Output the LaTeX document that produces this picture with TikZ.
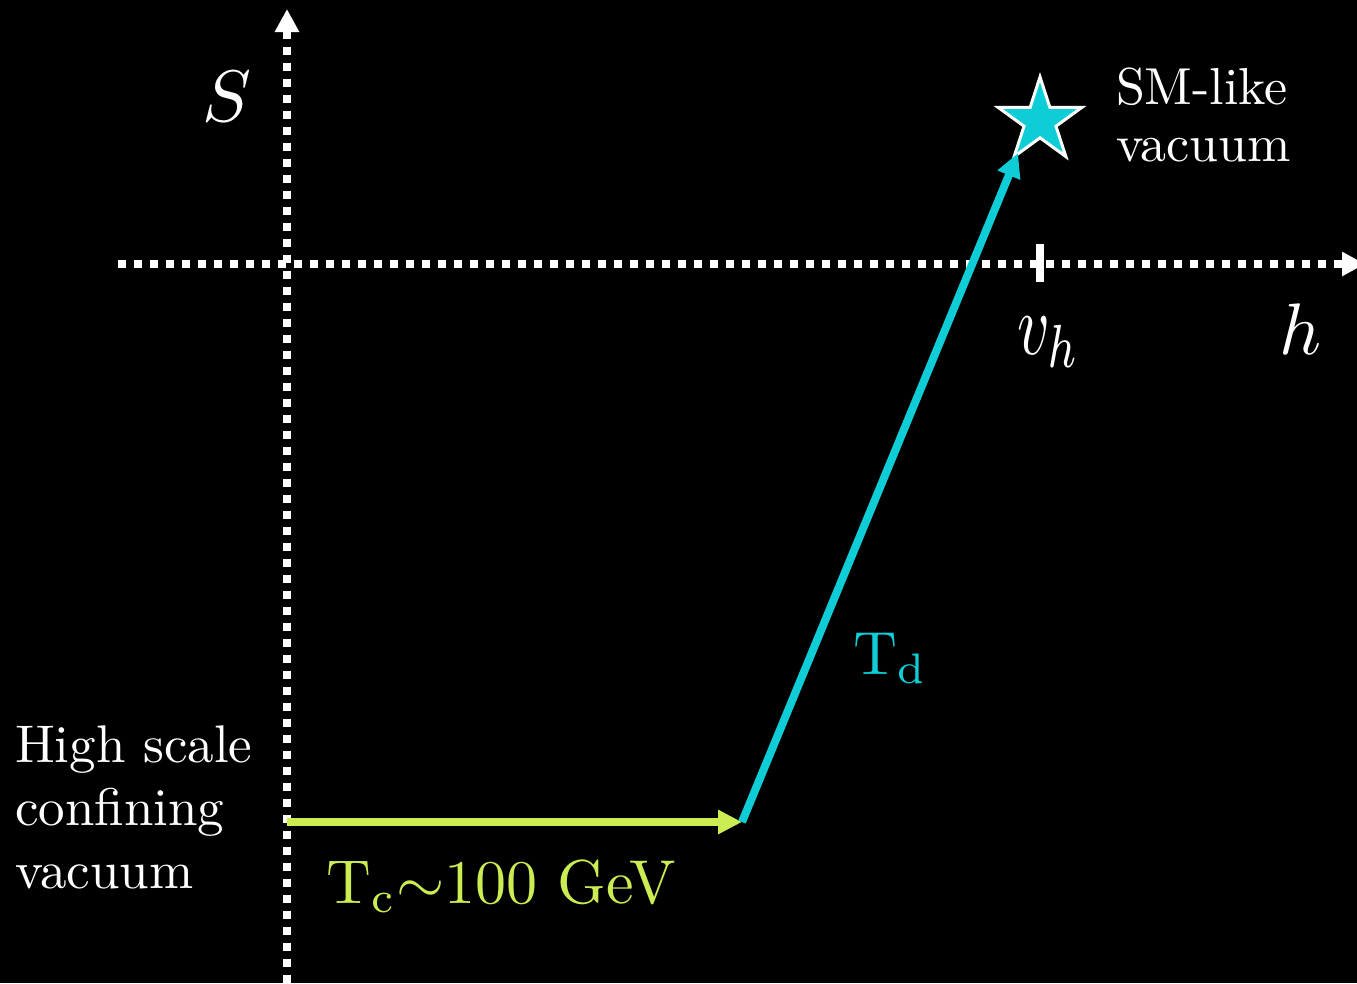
\documentclass[tikz,border=0pt]{standalone}
\usepackage{fontspec}
\usetikzlibrary{arrows.meta, shapes.geometric}

\definecolor{tcgreen}{RGB}{204,236,84}
\definecolor{tdcyan}{RGB}{14,205,214}

\tikzset{
	axis/.style={white, line width=8pt, dash pattern=on 8pt off 8pt, -{Triangle[length=23pt, width=23pt]}},
	path arrow/.style={line width=8pt, -{Triangle[length=24pt, width=23pt]}},
	big math/.style={white, inner sep=0pt, font=\fontsize{10}{12}\selectfont},
	label text/.style={white, inner sep=0pt, align=left}
}

\begin{document}
\begin{tikzpicture}[x=1pt, y=-1pt]
	\fill[black] (0, 0) rectangle (1357, 983);
	\useasboundingbox (0, 0) rectangle (1357, 983);
	\coordinate (hleft) at (118, 264);
	\coordinate (hright) at (1365, 264);
	\coordinate (vbottom) at (287, 983);
	\coordinate (vtop) at (287, 9);
	\draw[axis] (hleft) -- (hright);
	\draw[axis] (vbottom) -- (vtop);
	\draw[white, line width=8pt] (1040, 244) -- (1040, 282);
	\node[star, star points=5, star point ratio=2.618, minimum size=88pt, inner sep=0pt, fill=tdcyan, draw=white, line width=3pt] (smvac) at (1040, 121) {};
	\coordinate (hsvac) at (287, 822);
	\coordinate (kink) at (742, 822);
	\coordinate (tip) at (1018, 153);
	\draw[path arrow, tcgreen] (hsvac) -- (kink);
	\draw[path arrow, tdcyan] (kink) -- (tip);
	\node[label text, anchor=north west, font=\fontsize{10}{11.9}\selectfont, scale=5.3] (hsvac label) at (14, 725) {High scale\\confining\\vacuum};
	\node[label text, anchor=north west, font=\fontsize{10}{11}\selectfont, scale=5.2] (smvac label) at (1115, 67) {SM-like\\vacuum};
	\node[tcgreen, inner sep=0pt, anchor=base west, font=\fontsize{10}{12}\selectfont, scale=6.2] (tc label) at (325, 903) {T\textsubscript{c}$\sim$100 GeV};
	\node[tdcyan, inner sep=0pt, anchor=base west, font=\fontsize{10}{12}\selectfont, scale=6.1] (td label) at (852, 674) {T\textsubscript{d}};
	\node[big math, scale=7.3] (s label) at (227, 97) {$S$};
	\node[big math, scale=7.3] (h label) at (1301, 329) {$h$};
	\node[big math, anchor=base west, xscale=6.3, yscale=8.7] (vh label) at (1016, 354) {$v_h$};
\end{tikzpicture}
\end{document}
